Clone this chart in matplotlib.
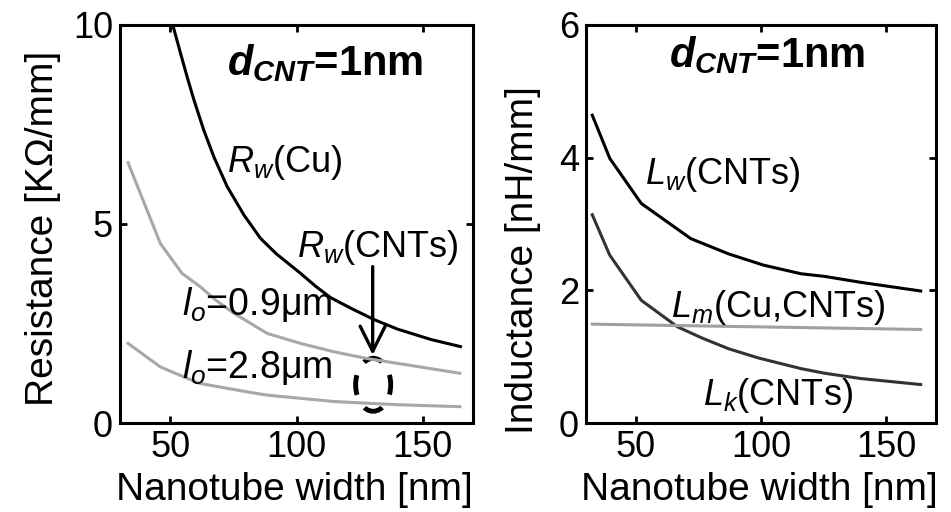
import matplotlib
matplotlib.use('Agg')
import matplotlib.pyplot as plt
from matplotlib.patches import Ellipse

plt.rcParams['font.family'] = ['Liberation Sans', 'DejaVu Sans']
plt.rcParams['mathtext.fontset'] = 'custom'
plt.rcParams['mathtext.rm'] = 'Liberation Sans'
plt.rcParams['mathtext.it'] = 'Liberation Sans:italic'
plt.rcParams['mathtext.bf'] = 'Liberation Sans:bold'
plt.rcParams['mathtext.bfit'] = 'Liberation Sans:bold:italic'

# ---- resistance panel ----
x_rcu = [50.2, 51.1, 54.0, 56.6, 59.3, 63.2, 67.2, 72.5, 79.1, 85.7, 92.0, 101.6,
         107.5, 113.5, 122.0, 130.7, 140.0, 153.2, 165.0]
r_cu = [10.2, 9.96, 9.29, 8.70, 8.12, 7.36, 6.69, 5.94, 5.23, 4.64, 4.25, 3.76,
        3.44, 3.15, 2.87, 2.60, 2.36, 2.10, 1.92]

x_r09 = [33.2, 46.0, 54.6, 61.9, 67.9, 75.1, 88.4, 101.6, 114.8, 128.0, 164.8]
r_09 = [6.54, 4.51, 3.76, 3.42, 3.09, 2.76, 2.25, 2.00, 1.79, 1.62, 1.25]

x_r28 = [33.2, 46.0, 61.2, 79.8, 88.4, 114.8, 140.0, 164.8]
r_28 = [2.00, 1.41, 1.00, 0.79, 0.70, 0.54, 0.46, 0.41]

# ---- inductance panel ----
x_lw = [32.5, 39.5, 52.1, 71.9, 87.0, 101.0, 116.0, 125.5, 140.0, 163.9]
l_w = [4.64, 3.99, 3.31, 2.78, 2.55, 2.38, 2.25, 2.21, 2.12, 1.99]

x_lk = [32.5, 39.5, 52.1, 66.6, 76.5, 87.0, 99.0, 116.0, 125.5, 140.0, 163.9]
l_k = [3.14, 2.53, 1.85, 1.45, 1.28, 1.12, 0.98, 0.82, 0.75, 0.67, 0.58]

x_lm = [32.5, 163.9]
l_m = [1.49, 1.41]

xticks = [50, 100, 150]
r_ticks = [0, 5, 10]
l_ticks = [0, 2, 4, 6]

GRAY = '#a8a8a8'
FS = 26
LFS = 28

fig = plt.figure(figsize=(9.51, 5.12), dpi=100)
ax1 = fig.add_axes([0.1262, 0.1738, 0.3712, 0.7774])
ax2 = fig.add_axes([0.6162, 0.1738, 0.3680, 0.7774])


def style(ax):
    ax.set_xlim(30, 170)
    ax.set_xticks(xticks)
    ax.tick_params(direction='in', top=True, right=True, length=5, width=2,
                   labelsize=FS, pad=5)
    for s in ax.spines.values():
        s.set_linewidth(2.2)
    ax.set_xlabel('Nanotube width [nm]', fontsize=LFS, va='baseline')
    ax.xaxis.set_label_coords(0.494, -0.193)


# left
style(ax1)
ax1.set_ylim(0, 10)
ax1.set_yticks(r_ticks)
ax1.plot(x_rcu, r_cu, color='black', lw=2.2)
ax1.plot(x_r09, r_09, color=GRAY, lw=2.2)
ax1.plot(x_r28, r_28, color=GRAY, lw=2.2)
ax1.set_ylabel('Resistance [K\u03a9/mm]', fontsize=LFS, va='baseline')
ax1.yaxis.set_label_coords(-0.19, 0.49)

ax1.text(72.5, 8.74, r'$\mathbfit{d}_{\mathbfit{CNT}}$=1nm', fontsize=30, fontweight='bold', va='baseline')
ax1.text(72.5, 6.31, r'$R_w$(Cu)', fontsize=FS, va='baseline')
ax1.text(100.3, 4.18, r'$R_w$(CNTs)', fontsize=FS, va='baseline')
ax1.text(54.6, 2.71, '$l_o$=0.9\u03bcm', fontsize=27, va='baseline')
ax1.text(54.6, 1.12, '$l_o$=2.8\u03bcm', fontsize=27, va='baseline')

ax1.annotate('', xy=(130.2, 1.71), xytext=(130.2, 3.93),
             arrowprops=dict(arrowstyle='->,head_length=0.9,head_width=0.45',
                             color='black', lw=2.4, mutation_scale=20,
                             shrinkA=0, shrinkB=0))
ax1.add_patch(Ellipse((130.4, 0.96), 13.9, 1.33, fill=False, ec='black',
                      lw=3.5, ls=(2.05, (4.1, 3.1))))

# right
style(ax2)
ax2.set_ylim(0, 6)
ax2.set_yticks(l_ticks)
ax2.plot(x_lw, l_w, color='black', lw=2.2)
ax2.plot(x_lk, l_k, color='#333333', lw=2.2)
ax2.plot(x_lm, l_m, color='#a0a0a0', lw=2.2)
ax2.set_ylabel('Inductance [nH/mm]', fontsize=LFS, va='baseline')
ax2.yaxis.set_label_coords(-0.151, 0.41)

ax2.text(63.3, 5.37, r'$\mathbfit{d}_{\mathbfit{CNT}}$=1nm', fontsize=30, fontweight='bold', va='baseline')
ax2.text(53.4, 3.61, r'$L_w$(CNTs)', fontsize=FS, va='baseline')
ax2.text(64.0, 1.60, r'$L_m$(Cu,CNTs)', fontsize=FS, va='baseline')
ax2.text(76.8, 0.27, r'$L_k$(CNTs)', fontsize=FS, va='baseline')

fig.savefig('out.png', dpi=100)
